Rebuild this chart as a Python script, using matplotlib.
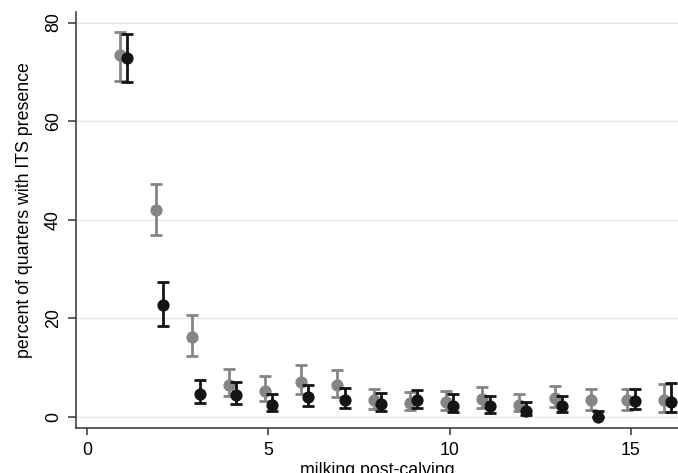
import matplotlib
matplotlib.use("Agg")
import matplotlib.pyplot as plt

# milking number post-calving
milking = list(range(1, 17))

# grey series: estimate, lower and upper CI (percent)
grey_est = [73.4, 42.0, 16.1, 6.5, 5.3, 7.1, 6.4, 3.3, 2.8, 3.0, 3.6, 2.3, 3.8, 3.3, 3.3, 3.4]
grey_lo = [68.2, 36.8, 12.3, 4.1, 3.1, 4.6, 4.0, 1.6, 1.3, 1.3, 1.8, 1.1, 2.0, 1.4, 1.3, 0.9]
grey_hi = [78.1, 47.3, 20.6, 9.7, 8.2, 10.5, 9.4, 5.6, 5.1, 5.3, 6.0, 4.6, 6.3, 5.6, 5.6, 6.7]

# black series
black_est = [72.9, 22.7, 4.7, 4.4, 2.4, 4.0, 3.4, 2.6, 3.3, 2.2, 2.1, 1.1, 2.1, 0.0, 3.1, 2.9]
black_lo = [68.0, 18.4, 2.8, 2.6, 1.2, 2.1, 1.8, 1.1, 1.8, 0.9, 0.7, 0.4, 0.9, 0.0, 1.6, 0.9]
black_hi = [77.7, 27.4, 7.5, 7.1, 4.6, 6.5, 5.8, 4.8, 5.5, 4.6, 4.3, 3.0, 4.3, 1.1, 5.6, 6.9]

xticks = [0, 5, 10, 15]
yticks = [0, 20, 40, 60, 80]

plt.rcParams['font.family'] = ['Liberation Sans', 'DejaVu Sans']
plt.rcParams['font.size'] = 12.8

fig = plt.figure(figsize=(6.78, 4.73), dpi=100)
fig.patch.set_facecolor('white')
ax = fig.add_axes([0.1121, 0.0958, 0.8879, 0.8795])

# horizontal grid
for y in yticks:
    ax.axhline(y, color='#e6e6e6', lw=1.0, zorder=0)

def draw(xoff, est, lo, hi, col, z):
    xs = [m + xoff for m in milking]
    err = [[e - l for e, l in zip(est, lo)], [h - e for e, h in zip(est, hi)]]
    ax.errorbar(xs, est, yerr=err, fmt='o', color=col, ecolor=col,
                ms=7.8, elinewidth=2.0, capsize=4.0, capthick=2.0,
                zorder=z, clip_on=False)

draw(-0.1, grey_est, grey_lo, grey_hi, '#858585', 2)
draw(0.1, black_est, black_lo, black_hi, '#141414', 3)

ax.set_xlim(-0.31, 16.3)
ax.set_ylim(-2.23, 82.2)
ax.set_xticks(xticks)
ax.set_yticks(yticks)

for s in ['top', 'right']:
    ax.spines[s].set_visible(False)
for s in ['left', 'bottom']:
    ax.spines[s].set_color('#333333')
    ax.spines[s].set_linewidth(1.1)

ax.tick_params(axis='x', length=5, width=1.1, color='#333333', pad=5)
ax.tick_params(axis='y', length=5.8, width=1.1, color='#333333', pad=4.3,
               labelrotation=90)
for lab in ax.get_yticklabels():
    lab.set_va('center')

ax.set_xlabel('milking post-calving', labelpad=2.5)
ax.set_ylabel('percent of quarters with ITS presence')
ax.yaxis.set_label_coords(-0.0714, 0.523)

fig.savefig('out.png', dpi=100)
